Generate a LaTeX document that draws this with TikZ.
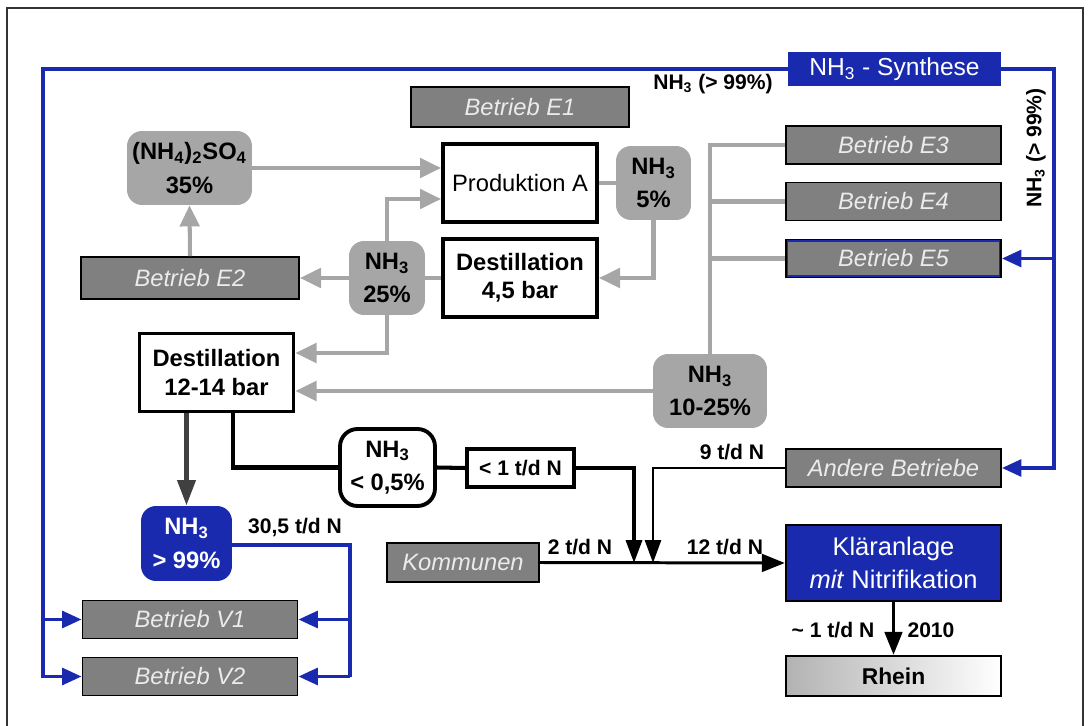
\documentclass[tikz,border=0pt]{standalone}
\usepackage{fontspec}
\setmainfont{Liberation Sans}
\usetikzlibrary{arrows.meta, positioning, calc}
\definecolor{synblue}{RGB}{26,42,175}
\definecolor{boxgrey}{RGB}{128,128,128}
\definecolor{flowgrey}{RGB}{166,166,166}
\definecolor{framegrey}{RGB}{51,51,51}
\definecolor{pipegrey}{RGB}{64,64,64}
\newcommand{\nh}{NH\textsubscript{3}}

\begin{document}
\begin{tikzpicture}[x=0.02cm, y=-0.02cm,
  font=\fontsize{13.5}{16}\selectfont,
  betrieb/.style={rectangle, draw=black, line width=1.1pt, fill=boxgrey,
              text=white!92!black, font=\fontsize{13.5}{16}\selectfont\itshape,
              minimum width=4.3cm, minimum height=0.76cm, inner sep=0pt},
  anlage/.style={rectangle, draw=black, line width=2.2pt, fill=white,
              align=center, minimum width=3.08cm, minimum height=1.56cm,
              inner sep=0pt},
  loesung/.style={rectangle, rounded corners=0.3cm, fill=flowgrey,
              align=center, font=\fontsize{13.5}{19}\selectfont\bfseries,
              minimum height=1.48cm, inner sep=0pt},
  blaubox/.style={rectangle, fill=synblue, text=white, align=center,
              inner sep=0pt},
  garr/.style={-{Triangle[length=12pt,width=11pt]}, line width=2.3pt, flowgrey},
  gline/.style={line width=2.3pt, flowgrey},
  barr/.style={-{Triangle[length=13pt,width=9pt]}, line width=2.2pt, black},
  bline/.style={line width=2.3pt, black},
  narr/.style={-{Triangle[length=11pt,width=9.5pt]}, line width=2pt, synblue},
  nline/.style={line width=2pt, synblue},
  lbl/.style={font=\fontsize{12}{14}\selectfont\bfseries}
]
\useasboundingbox (0,0) rectangle (1090,726);
\draw[framegrey, line width=1.2pt] (7,726) |- (1083,8) -- (1083,726);

% ── Synthese and the E plants on the right ──
\node[blaubox, font=\fontsize{14}{16}\selectfont,
      minimum width=4.26cm, minimum height=0.68cm] (syn) at (894.5,69)
  {\nh\ - Synthese};
\node[betrieb, minimum width=4.36cm, minimum height=0.8cm] (e1) at (520,107) {Betrieb E1};
\node[betrieb] (e3) at (893.5,145)   {Betrieb E3};
\node[betrieb] (e4) at (893.5,201.5) {Betrieb E4};
\node[betrieb] (e5) at (893.5,258.5) {Betrieb E5};
\draw[synblue, line width=0.7pt]
  ([shift={(1.4pt,-1.4pt)}]e5.north west) rectangle ([shift={(-1.4pt,1.4pt)}]e5.south east);
\node[betrieb] (andere) at (893.5,468) {Andere Betriebe};

% ── Production and distillation ──
\node[anlage] (prod)   at (520,183) {Produktion A};
\node[anlage, font=\fontsize{13.5}{16}\selectfont\bfseries] (dest45) at (520,278)
  {Destillation\\4,5 bar};
\node[anlage, font=\fontsize{13.5}{16}\selectfont\bfseries] (dest12) at (216.5,372.5)
  {Destillation\\12-14 bar};

% ── Ammonia solutions ──
\node[loesung, minimum width=2.5cm] (sulf)   at (189.5,168) {(NH\textsubscript{4})\textsubscript{2}SO\textsubscript{4}\\35\%};
\node[loesung, minimum width=1.5cm] (nh5)    at (653.5,183) {\nh\\5\%};
\node[loesung, minimum width=1.52cm] (nh25)  at (387,278)   {\nh\\25\%};
\node[loesung, minimum width=2.28cm] (nh1025) at (710,391)  {\nh\\10-25\%};
\node[loesung, fill=white, draw=black, line width=2.2pt, rounded corners=0.35cm,
      minimum width=1.9cm, minimum height=1.54cm] (nh05) at (387.5,467.5) {\nh\\< 0,5\%};
\node[blaubox, rounded corners=0.3cm, font=\fontsize{13.5}{19}\selectfont\bfseries,
      minimum width=1.82cm, minimum height=1.5cm] (nh99) at (186.5,543.5) {\nh\\> 99\%};
\node[rectangle, draw=black, line width=2.2pt, fill=white, font=\fontsize{12}{14}\selectfont\bfseries,
      minimum width=2.14cm, minimum height=0.76cm, inner sep=0pt] (lt1) at (520.5,468) {< 1 t/d N};

% ── Lower row ──
\node[betrieb, minimum width=3.04cm, minimum height=0.78cm] (komm) at (463,562.5) {Kommunen};
\node[betrieb] (v1) at (190,619.5) {Betrieb V1};
\node[betrieb] (v2) at (190,676.5) {Betrieb V2};
\node[betrieb, minimum width=4.36cm, minimum height=0.84cm] (e2) at (190,278) {Betrieb E2};
\node[blaubox, draw=black, line width=1.4pt, font=\fontsize{14.5}{19}\selectfont,
      minimum width=4.3cm, minimum height=1.52cm] (klaer) at (893.5,563)
  {Kläranlage\\\textit{mit} Nitrifikation};
\node[rectangle, draw=black, line width=1.4pt, left color=black!30, right color=white,
      font=\fontsize{13}{16}\selectfont\bfseries,
      minimum width=4.3cm, minimum height=0.8cm] (rhein) at (893.5,676) {Rhein};

% ── Blue NH3 supply ──
\coordinate (tl) at (43,69);
\coordinate (tr) at (1054,69);
\draw[narr] (syn.west) -- (tl) -- (tl |- v2.west) -- (v2.west);
\draw[narr] (tl |- v1.west) -- (v1.west);
\draw[narr] (syn.east) -- (tr) -- (tr |- andere.east) -- (andere.east);
\draw[narr] (tr |- e5.east) -- (e5.east);
\node[lbl] (synlbl) at (713,84) {\nh\ (> 99\%)};
\node[lbl, rotate=90] (synlbl2) at (1036,148) {\nh\ (> 99\%)};

\coordinate (vr) at (350,545);
\draw[nline] (nh99.east |- vr) -- (vr) -- (vr |- v2.east);
\draw[narr] (vr |- v1.east) -- (v1.east);
\draw[narr] (vr |- v2.east) -- (v2.east);
\node[lbl] (lbl305) at (295,527) {30,5 t/d N};

% ── Grey flows ──
\draw[garr] (sulf.east) -- (sulf.east -| prod.west);
\draw[garr] (e2.north) -- (sulf.south);
\draw[garr] (nh25.north) |- (prod.west |- 0,199);
\draw[gline] (dest45.west) -- (nh25.east);
\draw[garr] (nh25.west) -- (e2.east);
\draw[garr] (nh25.south) |- (dest12.east |- 0,353);
\draw[gline] (prod.east) -- (nh5.west);
\draw[garr] (nh5.south) |- (dest45.east);
\draw[gline] (e3.west) -| (nh1025.north);
\draw[gline] (e4.west) -- (e4.west -| nh1025.north);
\draw[gline] (e5.west) -- (e5.west -| nh1025.north);
\draw[garr] (nh1025.west) -- (nh1025.west -| dest12.east);

% ── Waste water ──
\draw[-{Triangle[length=14.5pt,width=10pt]}, line width=2.8pt, pipegrey]
  (dest12.south -| nh99.north) -- (nh99.north);
\draw[bline] ($(dest12.south)+(16.5,0)$) |- (nh05.west);
\draw[bline] (nh05.east) -- (lt1.west);
\coordinate (j1) at (634,563);
\coordinate (j2) at (653,563);
\draw[barr] (lt1.east) -| (j1);
\draw[barr, line width=1.7pt] (andere.west) -| (j2);
\draw[-{Triangle[length=13pt,width=10pt]}, line width=1.7pt] (komm.east) -- (klaer.west);
\draw[-{Triangle[length=13pt,width=10pt]}, line width=1.7pt] (klaer.south) -- (rhein.north);
\node[lbl] (lbl9)  at (732,452) {9 t/d N};
\node[lbl] (lbl2)  at (580,547) {2 t/d N};
\node[lbl] (lbl12) at (725,547) {12 t/d N};
\node[lbl] (lblr)  at (833,630) {\textasciitilde\ 1 t/d N};
\node[lbl] (lbly)  at (931,630) {2010};

\end{tikzpicture}
\end{document}
